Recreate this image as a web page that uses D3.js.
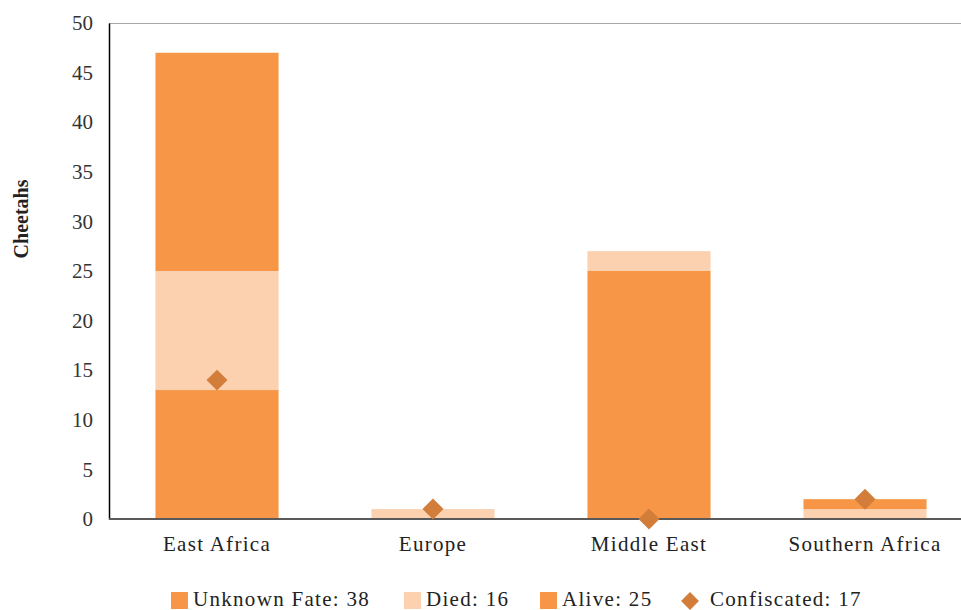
<!DOCTYPE html>
<html><head><meta charset="utf-8">
<script src="https://cdn.jsdelivr.net/npm/d3@7"></script>
<style>body{margin:0;background:#fff}svg{display:block}</style>
</head><body>
<svg id="c" width="961" height="610" font-family="Liberation Serif, serif"></svg>
<script>
const categories = ["East Africa","Europe","Middle East","Southern Africa"];
const unknownFate = [13,0,25,0];
const died = [12,1,2,1];
const alive = [22,0,0,1];
const confiscated = [14,1,0,2];
const yTicks = [0,5,10,15,20,25,30,35,40,45,50];
const legendLabels = ["Unknown Fate: 38","Died: 16","Alive: 25","Confiscated: 17"];
const seriesKeys = ["unknown","died","alive"];
const colors = {unknown:"#F79646", died:"#FBD1B0", alive:"#F79646", conf:"#D27E3A"};

(function(){
const FONT = "Liberation Serif, serif";
const svg = d3.select("#c");
const mLeft = 109, mTop = 23, mBottom = 519, mRight = 973;
const x = d3.scaleBand().domain(categories).range([mLeft, mRight]).paddingInner(0.43).paddingOuter(0.215);
const y = d3.scaleLinear().domain([0,50]).range([mBottom, mTop]);

const table = categories.map((c,i)=>({cat:c, unknown:unknownFate[i], died:died[i], alive:alive[i]}));
const stacked = d3.stack().keys(seriesKeys)(table);

svg.append("line").attr("x1",mLeft).attr("x2",961).attr("y1",mTop+0.5).attr("y2",mTop+0.5).attr("stroke","#a6a6a6").attr("stroke-width",1);

stacked.forEach(s=>{
  svg.append("g").selectAll("rect").data(s).join("rect")
    .attr("x",d=>x(d.data.cat)).attr("width",x.bandwidth())
    .attr("y",d=>y(d[1])).attr("height",d=>y(d[0])-y(d[1]))
    .attr("fill",colors[s.key]);
});

const ya = svg.append("g").attr("transform",`translate(${mLeft},0)`).call(d3.axisLeft(y).tickValues(yTicks).tickSize(0).tickPadding(16));
ya.attr("font-family",FONT).attr("font-size",21);
ya.select(".domain").attr("stroke","#000").attr("stroke-width",1.5);
ya.selectAll("text").attr("fill","#333");

const xa = svg.append("g").attr("transform",`translate(0,${mBottom})`).call(d3.axisBottom(x).tickSize(0).tickPadding(17));
xa.attr("font-family",FONT).attr("font-size",21).attr("letter-spacing",1.3);
xa.select(".domain").remove();
svg.append("line").attr("x1",mLeft).attr("x2",961).attr("y1",mBottom).attr("y2",mBottom).attr("stroke","#595959").attr("stroke-width",2);
xa.selectAll("text").attr("fill","#222");

const sym = d3.symbol().type(d3.symbolSquare).size(220);
svg.append("g").selectAll("path").data(categories).join("path")
  .attr("d",sym)
  .attr("transform",(c,i)=>`translate(${x(c)+x.bandwidth()/2},${y(confiscated[i])}) rotate(45)`)
  .attr("fill",colors.conf);

svg.append("text").attr("transform","translate(28,219) rotate(-90)").attr("text-anchor","middle")
  .attr("font-family",FONT).attr("font-size",20).attr("font-weight","bold").attr("fill","#222").text("Cheetahs");

const lg = svg.append("g").attr("font-family",FONT).attr("font-size",21).attr("letter-spacing",1.3);
const lx = [171,404,540,688];
const lcol = [colors.unknown, colors.died, colors.alive, colors.conf];
legendLabels.forEach((t,i)=>{
  if(i<3){
    lg.append("rect").attr("x",lx[i]).attr("y",592).attr("width",17).attr("height",17).attr("fill",lcol[i]);
  } else {
    lg.append("path").attr("d",d3.symbol().type(d3.symbolSquare).size(160)).attr("transform",`translate(${lx[i]+2},601) rotate(45)`).attr("fill",lcol[i]);
  }
  lg.append("text").attr("x",lx[i]+22).attr("y",606).attr("fill","#222").text(t);
});
})();
</script>
</body></html>
